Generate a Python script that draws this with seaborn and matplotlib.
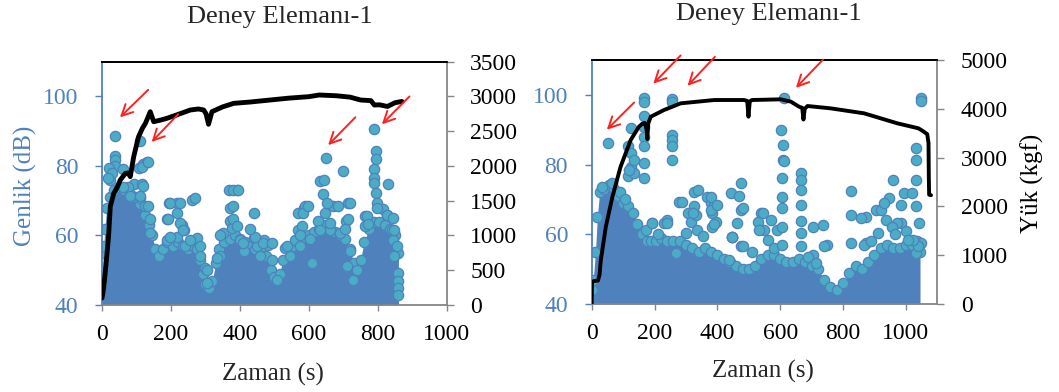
import matplotlib
matplotlib.use("Agg")
import matplotlib.pyplot as plt
import seaborn as sns
import pandas as pd

sns.set_theme(style="white")
plt.rcParams["font.family"] = ["Liberation Serif", "DejaVu Serif"]

# ---------------- data : left panel ----------------
hit_t_L = [39, 39, 39, 39, 19, 24, 30, 2, 111, 106, 120, 130, 92, 116, 111, 126, 75, 60,
           18, 62, 115, 134, 81, 120, 110, 134, 139, 139,
           193, 217, 188, 217, 232, 237, 261, 188, 217, 275, 241, 285, 300, 304,
           197, 226, 192, 226, 197, 236, 270, 255, 284, 304, 342, 352,
           333, 343, 367, 391, 370, 372, 377, 401, 440, 440, 411, 449, 469, 483, 459, 507,
           381, 394, 381, 381, 391, 410, 444, 430, 468, 492, 492,
           531, 546, 560, 570, 570, 585, 589, 604, 609, 536, 574, 584, 598, 579, 574,
           628, 633, 650, 645, 640, 647, 662, 671, 700, 708, 691, 715, 720, 710, 729,
           652, 686, 719, 715, 705, 661, 632, 603,
           762, 762, 790, 794, 794, 790, 790, 788, 794, 797, 830, 815, 826, 840, 845, 848,
           768, 771, 799, 826, 845, 847, 855, 860, 860, 860, 860]
hit_a_L = [88.6, 82.9, 81.8, 80.0, 79.5, 76.0, 78.0, 57.0, 87.2, 79.5, 80.5, 81.0, 74.7, 74.7, 70.8, 68.4, 74.0, 74.0,
           76.6, 79.0, 79.7, 81.0, 71.3, 74.2, 71.3, 68.4, 64.6, 60.8,
           69.4, 69.4, 64.6, 66.5, 63.0, 61.7, 70.3, 58.8, 59.7, 59.3, 56.9, 54.0, 50.6, 46.3,
           69.4, 69.4, 64.6, 63.7, 59.7, 61.7, 70.8, 58.8, 56.9, 50.1, 54.0, 60.7,
           53.5, 60.2, 73.2, 73.2, 68.0, 64.1, 62.2, 58.8, 66.5, 59.3, 55.4, 56.9, 58.8, 57.3, 54.0, 47.2,
           73.2, 73.2, 68.4, 64.6, 62.6, 57.8, 59.7, 61.9, 57.8, 57.8, 53.0,
           56.4, 54.0, 58.8, 61.7, 66.5, 68.0, 68.4, 58.8, 52.0, 56.9, 56.9, 66.5, 68.4, 62.6, 60.0,
           64.1, 75.6, 82.4, 76.1, 71.8, 66.5, 61.7, 68.4, 78.5, 64.1, 60.7, 69.4, 55.4, 51.1, 47.2,
           69.4, 68.4, 69.4, 64.6, 61.8, 63.6, 61.7, 59.0,
           65.5, 62.6, 90.6, 84.3, 82.0, 79.0, 76.6, 75.0, 72.3, 69.4, 74.7, 67.5, 66.0, 61.7, 58.8, 54.0,
           65.5, 63.2, 68.0, 66.0, 65.0, 61.7, 56.9, 49.2, 47.0, 44.9, 43.0]

# upper edge of the dense cloud of hits
core_t_L = [0, 4, 8, 14, 22, 35, 50, 65, 80, 95, 110, 125, 135, 145, 155, 165, 178, 190, 205, 220,
            235, 250, 265, 275, 283, 292, 300, 310, 320, 330, 340, 355, 370, 385, 400, 415, 430, 445,
            460, 475, 490, 500, 515, 525, 540, 555, 570, 585, 600, 615, 630, 645, 660, 675, 690, 705,
            720, 730, 740, 750, 760, 775, 790, 805, 820, 835, 850, 860]
core_a_L = [46, 55, 62, 68, 71, 73, 74, 73, 72, 71, 69, 66, 63, 60, 56, 54, 56, 58, 57, 58,
            57, 56, 57, 56, 53, 49, 46, 45, 47, 52, 56, 58, 59, 60, 59, 58, 57, 56,
            56, 54, 50, 48, 49, 53, 56, 57, 58, 59, 60, 61, 62, 63, 62, 61, 60, 59,
            56, 52, 50, 53, 58, 62, 64, 64, 63, 62, 60, 55]

load_t_L = [0, 5, 10, 19, 24, 34, 45, 53, 68, 76, 82, 92, 106, 118, 126, 140, 150, 170, 188, 220,
            256, 280, 295, 302, 309, 319, 350, 382, 430, 488, 540, 600, 630, 680, 720, 750, 780,
            790, 805, 828, 850, 870]
load_L = [100, 250, 500, 983, 1414, 1606, 1700, 1798, 1894, 1900, 1846, 2134, 2421, 2550, 2613, 2781,
          2637, 2660, 2685, 2740, 2805, 2820, 2805, 2750, 2600, 2781, 2850, 2901, 2920, 2949, 2975,
          2997, 3021, 3010, 2990, 2949, 2940, 2877, 2880, 2856, 2910, 2928]

# ---------------- data : right panel ----------------
hit_t_R = [52, 167, 167, 167, 167, 167, 167, 167, 167, 124, 114, 124, 124, 114, 135,
           34, 66, 119, 135, 90, 105,
           257, 257, 257, 257, 257, 257,
           193, 172, 230, 241, 278, 305, 316, 326, 331, 326, 336, 368, 379, 389, 384, 384, 395,
           193, 241, 268, 289, 337, 321, 379, 379, 400, 390, 210, 300, 355,
           443, 475, 475, 448, 475, 538, 528, 549, 560, 570, 591,
           448, 480, 480, 464, 448, 470, 437, 533, 544, 510, 580,
           602, 609, 609, 612, 607, 607, 607, 607, 607, 612,
           666, 666, 666, 666, 666, 666, 666, 703, 735, 750, 703, 740, 687, 713,
           825, 825, 873, 825, 873, 857, 867, 904, 958, 947, 920, 936, 984, 984, 931, 973, 995,
           890, 912, 955, 965, 1000,
           1032, 1032, 1032, 1021, 1032, 1042, 1048, 1048, 1048, 1032, 1037, 1022, 1008]
hit_a_R = [86.3, 99.0, 98.0, 93.8, 90.9, 88.0, 85.2, 80.4, 76.1, 90.4, 85.2, 83.3, 79.4, 76.6, 77.5,
           73.7, 74.6, 78.5, 81.4, 72.0, 70.0,
           98.8, 98.0, 88.5, 87.1, 85.2, 81.3,
           63.2, 61.2, 63.2, 64.1, 69.4, 66.0, 63.6, 72.2, 65.6, 68.0, 61.2, 70.8, 68.9, 68.4, 66.0, 62.2, 63.6,
           63.2, 63.2, 54.6, 69.4, 72.8, 66.0, 70.8, 67.0, 68.4, 63.0, 60.0, 60.5, 59.5,
           71.8, 74.6, 67.0, 59.3, 56.5, 66.0, 63.6, 61.2, 58.4, 64.1, 61.2,
           59.3, 67.5, 56.5, 63.2, 59.3, 71.0, 52.6, 61.3, 66.0, 55.0, 56.0,
           90.0, 85.7, 81.4, 99.0, 76.1, 70.8, 67.6, 62.2, 57.0, 80.9,
           77.6, 75.7, 72.8, 68.4, 63.7, 60.3, 56.5, 62.2, 62.6, 57.0, 54.1, 56.5, 53.6, 51.7,
           72.3, 65.6, 65.1, 57.4, 57.4, 64.6, 56.9, 67.0, 75.6, 70.4, 67.0, 64.1, 68.4, 63.2, 68.9, 63.2, 71.8,
           58.0, 60.5, 62.0, 60.0, 61.0,
           84.7, 81.4, 75.6, 71.8, 68.0, 63.2, 99.1, 98.2, 57.4, 54.6, 56.5, 58.4, 58.4]

core_t_R = [0, 5, 12, 18, 25, 40, 55, 70, 85, 100, 115, 130, 145, 160, 175, 190, 205, 220, 240,
            260, 280, 300, 320, 340, 360, 380, 400, 420, 440, 460, 480, 500, 520, 540, 560, 580,
            600, 620, 640, 660, 680, 700, 720, 740, 760, 780, 800, 820, 840, 860, 880, 900, 920,
            940, 960, 980, 1000, 1020, 1035, 1045]
core_a_R = [44, 47, 55, 65, 72, 73, 74, 73, 71, 69, 68, 66, 63, 60, 58, 58, 58, 59, 58,
            58, 58, 57, 56, 55, 56, 55, 54, 53, 52, 51, 50, 50, 51, 53, 54, 54,
            53, 52, 52, 53, 52, 51, 50, 47, 45, 44, 46, 49, 51, 50, 52, 54, 56,
            57, 56, 56, 57, 57, 58, 55]

load_t_R = [0, 1, 7, 20, 25, 29, 45, 66, 92, 124, 150, 160, 168, 172, 175, 177, 180, 188, 230,
            283, 390, 485, 495, 499, 503, 510, 602, 634, 660, 670, 674, 678, 687, 761, 867, 973,
            1040, 1055, 1068, 1072, 1073, 1074, 1080]
load_R = [0, 450, 470, 480, 600, 900, 1585, 2200, 2814, 3360, 3630, 3690, 3710, 3650, 3550, 3380,
          3700, 3838, 3975, 4112, 4180, 4180, 4160, 3838, 4150, 4180, 4194, 4146, 4043, 4020, 3780,
          4000, 4057, 4009, 3907, 3702, 3600, 3540, 3480, 3300, 2600, 2240, 2230]

# ---------------- style ----------------
BLUE = "#4F81BD"
TEAL = "#4BACC6"
GRAY = "#868686"
FS_TICK = 17
FS_LAB = 18
FS_TITLE = 19

W, H = 1059, 392
fig = plt.figure(figsize=(W / 100, H / 100), dpi=100)
axL = fig.add_axes([102 / W, 1 - 305 / H, 344.7 / W, 243.3 / H])
axR = fig.add_axes([591.7 / W, 1 - 304 / H, 345.6 / W, 244 / H])


def panel(ax, ht, ha, ct, ca, lt, lv, xmax, ymax2, ystep2, arrows, show_left_label,
          show_right_label, lw):
    ax.fill_between(ct, 40, ca, color=BLUE, lw=0, zorder=1)
    core = pd.DataFrame({"t": ct, "a": ca})
    hits = pd.DataFrame({"t": ht, "a": ha})
    for df in (core, hits):
        sns.scatterplot(data=df, x="t", y="a", ax=ax, s=55, color=TEAL,
                        edgecolor=BLUE, linewidth=0.9, zorder=2)
    ax.set_xlim(0, xmax)
    ax.set_ylim(40, 110)
    ax.set_xticks(range(0, 1001, 200))
    ax.set_yticks([40, 60, 80, 100])
    ax.set_xlabel("Zaman (s)", fontsize=FS_LAB)
    ax.set_ylabel("Genlik (dB)" if show_left_label else "", fontsize=FS_LAB, color=BLUE)
    ax.tick_params(axis="y", colors=BLUE, labelsize=FS_TICK, direction="out", length=5,
                   width=1, pad=12, left=True)
    ax.tick_params(axis="x", colors=GRAY, labelcolor="black", labelsize=FS_TICK, direction="out",
                   length=4, width=1, pad=10, bottom=True)
    ax.spines["left"].set_color(BLUE)
    ax.spines["top"].set_color("black")
    ax.spines["bottom"].set_color(GRAY)
    ax.spines["right"].set_visible(False)
    for s in ("left", "top", "bottom"):
        ax.spines[s].set_linewidth(1.3)

    ax2 = ax.twinx()
    load = pd.DataFrame({"t": lt, "kgf": lv})
    sns.lineplot(data=load, x="t", y="kgf", ax=ax2, color="black", lw=lw, sort=False,
                 estimator=None)
    ax2.set_ylim(0, ymax2)
    ax2.set_yticks(range(0, ymax2 + 1, ystep2))
    ax2.set_xlim(0, xmax)
    ax2.set_ylabel("Yük (kgf)" if show_right_label else "", fontsize=FS_LAB, color="black")
    ax2.tick_params(axis="y", colors=GRAY, labelcolor="black", labelsize=FS_TICK, direction="out",
                    length=5, width=1, pad=12, right=True)
    ax2.spines["right"].set_color(GRAY)
    ax2.spines["right"].set_linewidth(1.3)
    ax2.spines["top"].set_color("black")
    ax2.spines["top"].set_linewidth(1.3)
    ax2.spines["left"].set_visible(False)
    ax2.spines["bottom"].set_visible(False)
    ax2.grid(False)
    ax.grid(False)

    for head, tail in arrows:
        ax2.annotate("", xy=head, xytext=tail, xycoords=ax.transData, textcoords=ax.transData,
                     arrowprops=dict(arrowstyle="->", color="#FF2020", lw=1.4,
                                     mutation_scale=20, shrinkA=0, shrinkB=0),
                     annotation_clip=False)
    return ax2


arrowsL = [((52, 94.0), (134, 101.9)), ((144, 86.9), (221, 94.9)),
           ((656, 86.0), (735, 94.0)), ((812, 92.0), (892, 100.0))]
arrowsR = [((48, 90.0), (135, 97.8)), ((196, 103.2), (283, 111.3)),
           ((305, 102.6), (392, 110.9)), ((650, 102.0), (736, 110.1))]

axL2 = panel(axL, hit_t_L, hit_a_L, core_t_L, core_a_L, load_t_L, load_L, 1000, 3500, 500,
             arrowsL, True, False, 3.5)
axR2 = panel(axR, hit_t_R, hit_a_R, core_t_R, core_a_R, load_t_R, load_R, 1100, 5000, 1000,
             arrowsR, False, True, 2.8)

# label placement
axL.xaxis.set_label_coords(0.496, -0.238)
axR.xaxis.set_label_coords(0.496, -0.229)
axL.yaxis.set_label_coords(-0.19, 0.489)
axR2.yaxis.set_label_coords(1.242, 0.496)

fig.text(280 / W, 1 - 17 / H, "Deney Elemanı-1", ha="center", va="center", fontsize=FS_TITLE)
fig.text(769 / W, 1 - 14 / H, "Deney Elemanı-1", ha="center", va="center", fontsize=FS_TITLE)

fig.savefig("out.png", dpi=100, facecolor="white")
